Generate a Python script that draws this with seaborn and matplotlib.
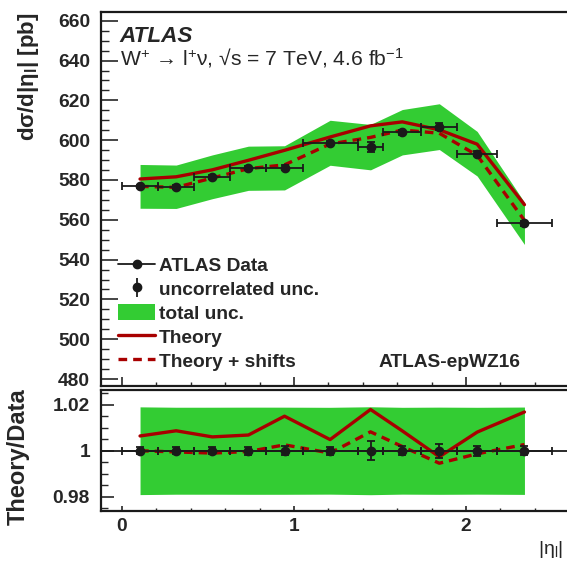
import numpy as np
import pandas as pd
import matplotlib
matplotlib.use("Agg")
import matplotlib.pyplot as plt
import seaborn as sns
from matplotlib.lines import Line2D
from matplotlib.patches import Patch
from matplotlib.ticker import MultipleLocator, FuncFormatter

# ---------------- data ----------------
bin_edges = [0.0, 0.21, 0.42, 0.63, 0.84, 1.05, 1.37, 1.52, 1.74, 1.95, 2.18, 2.5]
data_xsec = [576.8, 576.6, 581.6, 585.9, 586.1, 598.7, 596.5, 604.0, 606.8, 593.2, 558.2]
uncorr_unc = [0.9, 0.9, 0.9, 1.0, 1.2, 1.0, 2.5, 1.2, 1.8, 1.3, 1.1]
total_unc = [11.0, 10.9, 11.0, 11.1, 11.1, 11.3, 11.4, 11.4, 11.5, 11.2, 10.6]
theory = [580.5, 581.6, 585.1, 589.9, 594.9, 601.6, 607.2, 609.2, 605.2, 598.0, 567.6]
theory_shifts = [576.8, 576.3, 581.0, 585.7, 587.6, 598.1, 601.4, 605.1, 603.5, 592.4, 559.7]
x_ticks = [0, 1, 2]

edges = np.array(bin_edges)
centers = 0.5 * (edges[:-1] + edges[1:])
half_lo = centers - edges[:-1]
half_hi = edges[1:] - centers
d = np.array(data_xsec)
tot = np.array(total_unc)
unc = np.array(uncorr_unc)
df = pd.DataFrame({"eta": centers, "data": d, "theory": theory, "shifts": theory_shifts})
df["r_theory"] = df["theory"] / df["data"]
df["r_shifts"] = df["shifts"] / df["data"]

# ---------------- style ----------------
sns.set_theme(style="ticks")
plt.rcParams["font.family"] = ["Liberation Sans", "DejaVu Sans"]
plt.rcParams["mathtext.fontset"] = "custom"
plt.rcParams["mathtext.rm"] = "Liberation Sans"
plt.rcParams["mathtext.it"] = "Liberation Sans:italic"
plt.rcParams["mathtext.bf"] = "Liberation Sans:bold"
plt.rcParams["mathtext.default"] = "regular"

GREEN = "#33cc33"
RED = "#a80000"
FS = 13.8

W, H = 567, 563
fig = plt.figure(figsize=(W / 100, H / 100), dpi=100)
left = 101 / W
width = 468 / W
ax = fig.add_axes([left, (H - 386) / H, width, 374 / H])
ax2 = fig.add_axes([left, (H - 511) / H, width, 121 / H])

XLIM = (-0.122, 2.599)
DASH = (0, (2.6, 1.8))

# ---------------- main panel ----------------
ax.fill_between(centers, d - tot, d + tot, color=GREEN, lw=0, zorder=1)
sns.lineplot(data=df, x="eta", y="theory", ax=ax, color=RED, lw=2.4, zorder=3, sort=False)
sns.lineplot(data=df, x="eta", y="shifts", ax=ax, color=RED, lw=2.4, zorder=3,
             linestyle=DASH, sort=False)
ax.errorbar(centers, d, xerr=[half_lo, half_hi], yerr=unc, fmt="o", color="k",
            ms=6.0, elinewidth=1.3, capsize=2.6, capthick=1.3, zorder=4)

ax.set_xlim(*XLIM)
ax.set_ylim(476.5, 664.4)
ax.xaxis.set_major_locator(MultipleLocator(1))
ax.xaxis.set_minor_locator(MultipleLocator(0.2))
ax.yaxis.set_major_locator(MultipleLocator(20))
ax.yaxis.set_minor_locator(MultipleLocator(5))
ax.tick_params(axis="x", which="major", direction="in", length=6.5, width=1.2, labelbottom=False)
ax.tick_params(axis="x", which="minor", direction="in", length=3, width=1.0)
ax.tick_params(axis="y", which="major", direction="in", length=12, width=1.2,
               labelsize=FS, pad=8)
ax.tick_params(axis="y", which="minor", direction="in", length=6, width=1.0)
for lab in ax.get_yticklabels():
    lab.set_fontweight("bold")
ax.set_xlabel("")
ax.set_ylabel("dσ/d|η$_{l}$| [pb]", fontsize=16.0, fontweight="bold", loc="top")
ax.yaxis.set_label_coords(-0.128, 1.0)
for s in ax.spines.values():
    s.set_linewidth(1.6)
    s.set_color("k")

ax.text(0.040, 0.92, "ATLAS", transform=ax.transAxes, fontsize=16.2,
        fontweight="bold", fontstyle="italic", va="baseline", ha="left")
ax.text(0.040, 0.857, "W$^{+}$ → l$^{+}$ν, √s = 7 TeV, 4.6 fb$^{-1}$",
        transform=ax.transAxes, fontsize=15.2, va="baseline", ha="left")
ax.text(0.594, 0.0495, "ATLAS-epWZ16", transform=ax.transAxes, fontsize=FS,
        fontweight="bold", va="baseline", ha="left")

eb_leg = ax.errorbar([np.nan], [np.nan], yerr=[np.nan], fmt="o", color="k", ms=6.0,
                     elinewidth=1.3, capsize=0)
handles = [
    Line2D([], [], color="k", marker="o", ms=6.0, lw=1.3),
    eb_leg,
    Patch(facecolor=GREEN, edgecolor="none"),
    Line2D([], [], color=RED, lw=2.4),
    Line2D([], [], color=RED, lw=2.4, linestyle=DASH),
]
labels = ["ATLAS Data", "uncorrelated unc.", "total unc.", "Theory", "Theory + shifts"]
leg = ax.legend(handles, labels, loc="upper left", bbox_to_anchor=(0.036, 0.347),
                frameon=False, borderpad=0, borderaxespad=0, handlelength=1.95,
                handletextpad=0.2, labelspacing=0.28, handleheight=0.9,
                prop={"size": FS, "weight": "bold"})

# ---------------- ratio panel ----------------
ax2.fill_between(centers, 1 - tot / d, 1 + tot / d, color=GREEN, lw=0, zorder=1)
ax2.axhline(1.0, color="k", lw=1.3, zorder=2)
sns.lineplot(data=df, x="eta", y="r_theory", ax=ax2, color=RED, lw=2.4, zorder=3, sort=False)
sns.lineplot(data=df, x="eta", y="r_shifts", ax=ax2, color=RED, lw=2.4, zorder=3,
             linestyle=DASH, sort=False)
ax2.errorbar(centers, np.ones_like(d), xerr=[half_lo, half_hi], yerr=unc / d, fmt="o",
             color="k", ms=6.0, elinewidth=1.3, capsize=2.6, capthick=1.3, zorder=4)

ax2.set_xlim(*XLIM)
ax2.set_ylim(0.9738, 1.0264)
ax2.set_xticks(x_ticks)
ax2.xaxis.set_minor_locator(MultipleLocator(0.2))
ax2.yaxis.set_major_locator(MultipleLocator(0.02))
ax2.yaxis.set_minor_locator(MultipleLocator(0.005))
ax2.yaxis.set_major_formatter(FuncFormatter(lambda v, p: f"{v:g}"))
ax2.tick_params(axis="x", which="major", direction="in", length=3.5, width=1.2,
                labelsize=FS, pad=5)
ax2.tick_params(axis="x", which="minor", direction="in", length=2, width=1.0)
ax2.tick_params(axis="y", which="major", direction="in", length=9, width=1.2,
                labelsize=FS, pad=8)
ax2.tick_params(axis="y", which="minor", direction="in", length=5, width=1.0)
for lab in ax2.get_yticklabels() + ax2.get_xticklabels():
    lab.set_fontweight("bold")
ax2.set_ylabel("Theory/Data", fontsize=17, fontweight="bold")
ax2.yaxis.set_label_coords(-0.152, 0.45)
ax2.set_xlabel("|η$_{l}$|", fontsize=14, ha="right")
ax2.xaxis.set_label_coords(0.987, -0.235)
for s in ax2.spines.values():
    s.set_linewidth(1.6)
    s.set_color("k")

fig.savefig("out.png", dpi=100)
